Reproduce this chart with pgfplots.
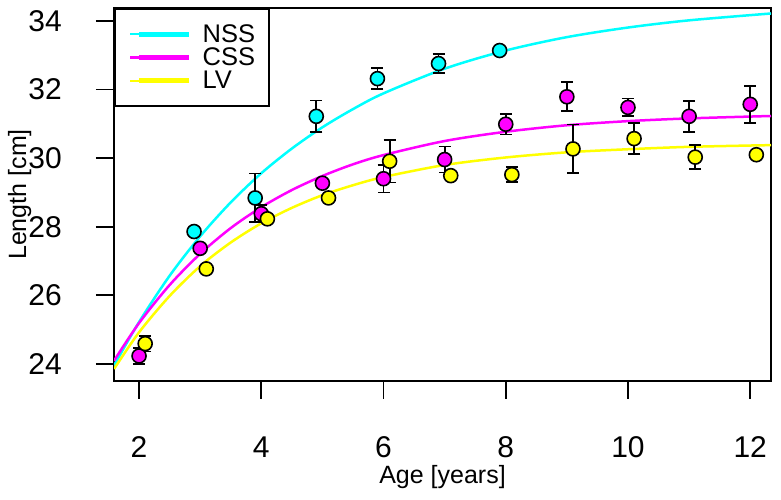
\documentclass[border=0pt]{standalone}
\usepackage{fontspec}
\setmainfont{Liberation Sans}
\usepackage{pgfplots}
\usepackage{pgfplotstable}
\pgfplotsset{compat=1.18}

\definecolor{cy}{RGB}{0,255,255}
\definecolor{mg}{RGB}{255,0,255}
\definecolor{yl}{RGB}{255,255,0}

\pgfplotstableread{
x y e
2.9 27.86 0.0
3.9 28.84 0.71
4.9 31.22 0.46
5.9 32.32 0.31
6.9 32.76 0.28
7.9 33.14 0.0
}\nssdata
\pgfplotstableread{
x y e
2.0 24.23 0.24
3.0 27.37 0.0
4.0 28.38 0.25
5.0 29.27 0.0
6.0 29.40 0.40
7.0 29.96 0.38
8.0 30.99 0.30
9.0 31.79 0.42
10.0 31.48 0.26
11.0 31.22 0.45
12.0 31.57 0.54
}\cssdata
\pgfplotstableread{
x y e
2.1 24.59 0.23
3.1 26.77 0.0
4.1 28.23 0.0
5.1 28.84 0.0
6.1 29.91 0.62
7.1 29.49 0.0
8.1 29.52 0.22
9.1 30.27 0.71
10.1 30.57 0.45
11.1 30.03 0.35
12.1 30.10 0.0
}\lvdata

\pgfplotstableread{
t L
1.59 23.95
2 25.22
2.5 26.57
3 27.72
3.5 28.71
4 29.56
4.5 30.28
5 30.90
5.5 31.43
6 31.89
7 32.61
8 33.14
9 33.53
10 33.81
11 34.02
12.34 34.22
}\nssfit
\pgfplotstableread{
t L
1.59 24.09
2 25.19
2.5 26.30
3 27.21
3.5 27.96
4 28.57
4.5 29.07
5 29.48
5.5 29.82
6 30.09
7 30.50
8 30.77
9 30.96
10 31.08
11 31.16
12.34 31.23
}\cssfit
\pgfplotstableread{
t L
1.59 23.85
2 24.92
2.5 25.98
3 26.85
3.5 27.54
4 28.10
4.5 28.55
5 28.92
5.5 29.21
6 29.45
7 29.80
8 30.02
9 30.17
10 30.26
11 30.33
12.34 30.38
}\lvfit

\begin{document}
\begin{tikzpicture}
\useasboundingbox (0,0) rectangle (781bp,500bp);
\begin{axis}[
  at={(114bp,119bp)}, anchor=south west,
  scale only axis, width=657bp, height=373bp,
  xmin=1.59, xmax=12.34, ymin=23.5, ymax=34.38,
  xtick={2,4,6,8,10,12}, ytick={24,26,28,30,32,34},
  tick align=outside, major tick length=18bp,
  xtick pos=bottom, ytick pos=left,
  tick style={black, line width=1.8bp},
  axis line style={black, line width=2bp},
  /pgf/number format/assume math mode=true,
  tick label style={font=\fontsize{30bp}{30bp}\selectfont, inner sep=0pt},
  xticklabel style={anchor=north, text height=21.5bp, text depth=0pt},
  yticklabel style={anchor=east},
  xticklabel shift=37bp,
  yticklabel shift=34bp,
  every axis x label/.style={at={(axis description cs:0.5,-0.2761)}, anchor=base,
    font=\fontsize{25bp}{25bp}\selectfont},
  every axis y label/.style={at={(axis description cs:-0.1339,0.5)}, rotate=90, anchor=base,
    font=\fontsize{25bp}{25bp}\selectfont},
  xlabel={Age [years]},
  ylabel={Length [cm]},
  legend style={at={(0,1)}, anchor=north west, draw=black, line width=1.8bp, fill=white,
    inner xsep=14bp, inner ysep=15.5bp,
    font=\fontsize{25.5bp}{25.5bp}\selectfont,
    row sep=4.2bp,
    nodes={inner sep=0bp},
    /tikz/every odd column/.append style={column sep=11bp}},
  legend cell align=left,
  legend image code/.code={\path (-9bp,0bp) -- (50bp,0bp); \draw[#1, line width=5bp] (0bp,0bp) -- (50bp,0bp);},
]
\addplot[cy, line width=2.5bp, smooth, no marks] table[x=t,y=L] {\nssfit};
\addlegendentry{NSS}
\addplot[mg, line width=2.5bp, smooth, no marks] table[x=t,y=L] {\cssfit};
\addlegendentry{CSS}
\addplot[yl, line width=2.5bp, smooth, no marks] table[x=t,y=L] {\lvfit};
\addlegendentry{LV}

\addplot[forget plot, only marks, mark=none,
  error bars/.cd, y dir=both, y explicit,
  error bar style={black, line width=1.8bp},
  error mark options={rotate=90, black, mark size=6bp, line width=1.8bp}]
  table[x=x, y=y, y error=e] {\nssdata};
\addplot[forget plot, only marks, mark=*, mark size=7bp,
  mark options={draw=black, fill=cy, line width=1.6bp}]
  table[x=x, y=y] {\nssdata};

\addplot[forget plot, only marks, mark=none,
  error bars/.cd, y dir=both, y explicit,
  error bar style={black, line width=1.8bp},
  error mark options={rotate=90, black, mark size=6bp, line width=1.8bp}]
  table[x=x, y=y, y error=e] {\cssdata};
\addplot[forget plot, only marks, mark=*, mark size=7bp,
  mark options={draw=black, fill=mg, line width=1.6bp}]
  table[x=x, y=y] {\cssdata};

\addplot[forget plot, only marks, mark=none,
  error bars/.cd, y dir=both, y explicit,
  error bar style={black, line width=1.8bp},
  error mark options={rotate=90, black, mark size=6bp, line width=1.8bp}]
  table[x=x, y=y, y error=e] {\lvdata};
\addplot[forget plot, only marks, mark=*, mark size=7bp,
  mark options={draw=black, fill=yl, line width=1.6bp}]
  table[x=x, y=y] {\lvdata};
\end{axis}
\end{tikzpicture}
\end{document}
